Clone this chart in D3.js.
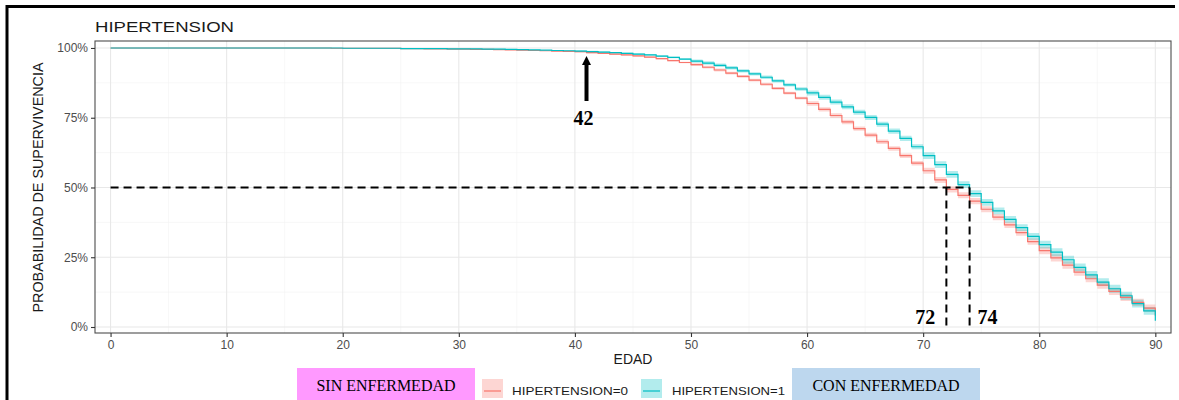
<!DOCTYPE html>
<html lang="es">
<head>
<meta charset="UTF-8">
<title>HIPERTENSION</title>
<script src="https://d3js.org/d3.v7.min.js"></script>
<style>
  body { margin: 0; background: #fff; }
  svg { display: block; font-family: "Liberation Sans", Arial, sans-serif; }
</style>
</head>
<body>
<div id="chart"></div>
<script>
// edades (años) y probabilidad de supervivencia por grupo
const ages = [0,1,2,3,4,5,6,7,8,9,10,11,12,13,14,15,16,17,18,19,20,21,22,23,24,25,26,27,28,29,
  30,31,32,33,34,35,36,37,38,39,40,41,42,43,44,45,46,47,48,49,50,51,52,53,54,55,56,57,58,59,
  60,61,62,63,64,65,66,67,68,69,70,71,72,73,74,75,76,77,78,79,80,81,82,83,84,85,86,87,88,89,90];

// HIPERTENSION=0
const surv0 = [1,1,1,1,1,1,1,1,1,1,1,1,1,1,1,1,1,1,1,0.999,0.999,0.999,0.999,0.999,0.999,
  0.998,0.998,0.997,0.997,0.996,0.996,0.995,0.995,0.994,0.993,0.992,0.991,0.990,0.989,0.988,
  0.987,0.983,0.981,0.978,0.975,0.972,0.967,0.962,0.955,0.948,0.940,0.931,0.921,0.910,0.898,
  0.885,0.870,0.855,0.838,0.820,0.801,0.780,0.758,0.735,0.711,0.688,0.664,0.640,0.614,0.587,
  0.560,0.527,0.493,0.472,0.451,0.422,0.394,0.366,0.338,0.306,0.274,0.248,0.222,0.197,0.173,
  0.150,0.128,0.106,0.088,0.068,0.040];

// HIPERTENSION=1
const surv1 = [1,1,1,1,1,1,1,1,1,1,1,1,1,1,1,1,1,1,1,1,0.999,0.999,0.999,0.999,0.999,
  0.998,0.998,0.998,0.998,0.997,0.997,0.997,0.996,0.996,0.995,0.994,0.993,0.992,0.991,0.990,
  0.989,0.987,0.985,0.983,0.981,0.978,0.975,0.971,0.966,0.960,0.953,0.946,0.938,0.929,0.918,
  0.907,0.895,0.882,0.868,0.853,0.839,0.823,0.806,0.789,0.770,0.751,0.727,0.702,0.676,0.646,
  0.614,0.582,0.547,0.510,0.478,0.447,0.416,0.386,0.356,0.325,0.295,0.268,0.241,0.214,0.187,
  0.161,0.137,0.112,0.084,0.058,0.022];

// media amplitud del intervalo de confianza, por tramo de edad
const ciBands = [0, 40, 50, 60, 70, 80];
const ciHalf0 = [0.001, 0.003, 0.005, 0.008, 0.011, 0.013];
const ciHalf1 = [0.001, 0.003, 0.006, 0.009, 0.012, 0.014];

const seriesNames = ["HIPERTENSION=0", "HIPERTENSION=1"];
const seriesColors = ["#F8766D", "#00BFC4"];

const xTicks = [0, 10, 20, 30, 40, 50, 60, 70, 80, 90];
const xMinor = [5, 15, 25, 35, 45, 55, 65, 75, 85];
const yTicks = [0, 0.25, 0.5, 0.75, 1];
const yMinor = [0.125, 0.375, 0.625, 0.875];

// anotaciones
const arrowAge = 41, arrowLabel = "42";
const medianAges = [72, 74];

const w = 1179, h = 400;
const panel = {left: 95, right: 1171, top: 41, bottom: 333};

const svg = d3.select("#chart").append("svg")
  .attr("width", w).attr("height", h);

svg.append("rect").attr("width", w).attr("height", h).attr("fill", "#fff");

const x = d3.scaleLinear().domain([-1.34, 91.35]).range([panel.left, panel.right]);
const y = d3.scaleLinear().domain([-0.0215, 1.025]).range([panel.bottom, panel.top]);

// grid
const grid = svg.append("g");
grid.selectAll(".xminor").data(xMinor).enter().append("line")
  .attr("x1", d => x(d)).attr("x2", d => x(d))
  .attr("y1", panel.top).attr("y2", panel.bottom)
  .attr("stroke", "#F2F2F2").attr("stroke-width", 0.6);
grid.selectAll(".yminor").data(yMinor).enter().append("line")
  .attr("x1", panel.left).attr("x2", panel.right)
  .attr("y1", d => y(d)).attr("y2", d => y(d))
  .attr("stroke", "#F2F2F2").attr("stroke-width", 0.6);
grid.selectAll(".xmajor").data(xTicks).enter().append("line")
  .attr("x1", d => x(d)).attr("x2", d => x(d))
  .attr("y1", panel.top).attr("y2", panel.bottom)
  .attr("stroke", "#E8E8E8").attr("stroke-width", 1.1);
grid.selectAll(".ymajor").data(yTicks).enter().append("line")
  .attr("x1", panel.left).attr("x2", panel.right)
  .attr("y1", d => y(d)).attr("y2", d => y(d))
  .attr("stroke", "#E8E8E8").attr("stroke-width", 1.1);

function ciAt(halfs, age) {
  let k = 0;
  for (let i = 0; i < ciBands.length; i++) if (age >= ciBands[i]) k = i;
  return halfs[k];
}

const series = [surv0, surv1].map((s, j) => ages.map((a, i) => {
  const half = ciAt(j === 0 ? ciHalf0 : ciHalf1, a);
  return {age: a, s: s[i], lo: Math.max(0, s[i] - half), hi: Math.min(1, s[i] + half)};
}));

const area = d3.area().curve(d3.curveStepAfter)
  .x(d => x(d.age)).y0(d => y(d.lo)).y1(d => y(d.hi));
const line = d3.line().curve(d3.curveStepAfter)
  .x(d => x(d.age)).y(d => y(d.s));

series.forEach((s, j) => {
  svg.append("path").attr("d", area(s))
    .attr("fill", seriesColors[j]).attr("fill-opacity", 0.3);
});
series.forEach((s, j) => {
  svg.append("path").attr("d", line(s))
    .attr("fill", "none").attr("stroke", seriesColors[j]).attr("stroke-width", 1.2);
});

// borde del panel
svg.append("rect")
  .attr("x", panel.left).attr("y", panel.top)
  .attr("width", panel.right - panel.left).attr("height", panel.bottom - panel.top)
  .attr("fill", "none").attr("stroke", "#4D4D4D").attr("stroke-width", 1.1);

// ejes
const xAxis = svg.append("g")
  .attr("transform", "translate(0," + panel.bottom + ")")
  .call(d3.axisBottom(x).tickValues(xTicks).tickSize(4).tickPadding(3).tickFormat(d3.format("d")));
const yAxis = svg.append("g")
  .attr("transform", "translate(" + panel.left + ",0)")
  .call(d3.axisLeft(y).tickValues(yTicks).tickSize(4).tickPadding(3).tickFormat(d3.format(".0%")));
[xAxis, yAxis].forEach(g => {
  g.select(".domain").remove();
  g.selectAll(".tick line").attr("stroke", "#333").attr("stroke-width", 1.1);
  g.selectAll(".tick text").attr("fill", "#4D4D4D")
    .style("font-size", "12px").style("font-family", "'Liberation Sans', Arial, sans-serif");
});

// títulos
svg.append("text").attr("x", panel.left).attr("y", 32)
  .attr("textLength", 139).attr("lengthAdjust", "spacingAndGlyphs")
  .style("font-size", "15px").attr("fill", "#1a1a1a").text("HIPERTENSION");
svg.append("text").attr("x", (panel.left + panel.right) / 2).attr("y", 364)
  .attr("text-anchor", "middle")
  .style("font-size", "14px").attr("fill", "#1a1a1a").text("EDAD");
svg.append("text")
  .attr("transform", "translate(43," + y(0.5) + ") rotate(-90)")
  .attr("text-anchor", "middle")
  .attr("textLength", 250).attr("lengthAdjust", "spacingAndGlyphs")
  .style("font-size", "14px").attr("fill", "#1a1a1a").text("PROBABILIDAD DE SUPERVIVENCIA");

// líneas de mediana
const dash = "8,5";
svg.append("line")
  .attr("x1", x(0)).attr("x2", x(medianAges[1]))
  .attr("y1", y(0.5)).attr("y2", y(0.5))
  .attr("stroke", "#000").attr("stroke-width", 2).attr("stroke-dasharray", dash);
svg.selectAll(".vmed").data(medianAges).enter().append("line")
  .attr("x1", d => x(d)).attr("x2", d => x(d))
  .attr("y1", y(0.5)).attr("y2", y(0))
  .attr("stroke", "#000").attr("stroke-width", 2).attr("stroke-dasharray", dash);

const serif = "'Liberation Serif', 'Times New Roman', serif";
svg.append("text").attr("x", x(medianAges[0]) - 21).attr("y", 324)
  .attr("text-anchor", "middle").style("font-family", serif)
  .style("font-size", "20px").style("font-weight", "bold").text(medianAges[0]);
svg.append("text").attr("x", x(medianAges[1]) + 18).attr("y", 324)
  .attr("text-anchor", "middle").style("font-family", serif)
  .style("font-size", "20px").style("font-weight", "bold").text(medianAges[1]);

// flecha
const ax = x(arrowAge);
svg.append("line").attr("x1", ax).attr("x2", ax).attr("y1", 101).attr("y2", 63)
  .attr("stroke", "#000").attr("stroke-width", 4);
svg.append("path")
  .attr("d", `M${ax},56 L${ax - 4.5},65 L${ax + 4.5},65 Z`).attr("fill", "#000");
svg.append("text").attr("x", ax - 3).attr("y", 125)
  .attr("text-anchor", "middle").style("font-family", serif)
  .style("font-size", "20px").style("font-weight", "bold").text(arrowLabel);

// leyenda
svg.append("rect").attr("x", 297).attr("y", 368).attr("width", 178).attr("height", 32)
  .attr("fill", "#FF99FF");
svg.append("text").attr("x", 386).attr("y", 391).attr("text-anchor", "middle")
  .style("font-family", serif).style("font-size", "16px").text("SIN ENFERMEDAD");
svg.append("rect").attr("x", 792).attr("y", 368).attr("width", 188).attr("height", 32)
  .attr("fill", "#BDD7EE");
svg.append("text").attr("x", 886).attr("y", 391).attr("text-anchor", "middle")
  .style("font-family", serif).style("font-size", "16px").text("CON ENFERMEDAD");

const keyX = [482, 641], textX = [512, 672], textW = [116, 113];
seriesNames.forEach((n, j) => {
  svg.append("rect").attr("x", keyX[j]).attr("y", 379).attr("width", 21).attr("height", 19)
    .attr("fill", seriesColors[j]).attr("fill-opacity", 0.3);
  svg.append("line").attr("x1", keyX[j] + 2).attr("x2", keyX[j] + 19)
    .attr("y1", 391).attr("y2", 391)
    .attr("stroke", seriesColors[j]).attr("stroke-width", 1.2);
  svg.append("text").attr("x", textX[j]).attr("y", 395)
    .attr("textLength", textW[j]).attr("lengthAdjust", "spacingAndGlyphs")
    .style("font-size", "11px").attr("fill", "#1a1a1a").text(n);
});

// marco exterior
svg.append("line").attr("x1", 6).attr("x2", 1175).attr("y1", 6.5).attr("y2", 6.5)
  .attr("stroke", "#000").attr("stroke-width", 3);
svg.append("line").attr("x1", 7).attr("x2", 7).attr("y1", 5).attr("y2", 400)
  .attr("stroke", "#000").attr("stroke-width", 3);
</script>
</body>
</html>
